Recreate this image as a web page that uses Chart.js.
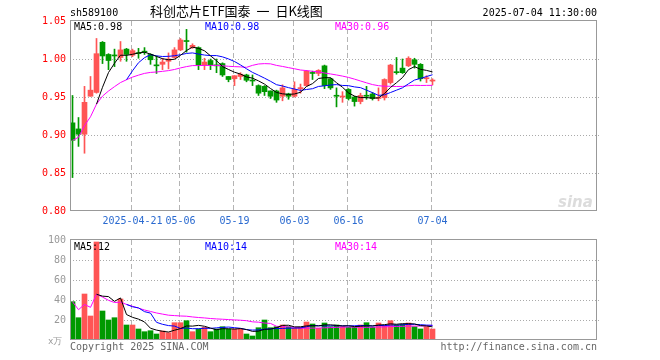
<!DOCTYPE html>
<html>
<head>
<meta charset="utf-8">
<script src="https://cdn.jsdelivr.net/npm/chart.js@4.4.1/dist/chart.umd.min.js"></script>
<style>
  body { margin: 0; background: #fff; }
  #wrap { position: relative; width: 660px; height: 360px; overflow: hidden; }
  canvas { position: absolute; left: 0; }
  .t { position: absolute; font: 10px "DejaVu Sans Mono", monospace; line-height: 10px; white-space: pre; }
</style>
</head>
<body>
<div id="wrap">
  <canvas id="kChart" width="660" height="230" style="top:0"></canvas>
  <canvas id="volChart" width="660" height="130" style="top:230px"></canvas>
  <div class="t" style="left:70px;top:8px">sh589100</div>
  <div class="t" style="left:150px;top:4px;font:13px 'Noto Sans CJK SC';line-height:14px;word-spacing:3px">科创芯片ETF国泰 一 日K线图</div>
  <div class="t" style="right:63px;top:8px">2025-07-04 11:30:00</div>
  <div class="t" id="ma5k" style="left:74px;top:22px;color:#000"></div>
  <div class="t" id="ma10k" style="left:205px;top:22px;color:#0000ff"></div>
  <div class="t" id="ma30k" style="left:335px;top:22px;color:#ff00ff"></div>
  <div class="t" id="ma5v" style="left:74px;top:242px;color:#000"></div>
  <div class="t" id="ma10v" style="left:205px;top:242px;color:#0000ff"></div>
  <div class="t" id="ma30v" style="left:335px;top:242px;color:#ff00ff"></div>
  <div class="t" style="left:48px;top:336px;font-size:9px;color:#999">x万</div>
  <div class="t" style="left:70px;top:342px;color:#666">Copyright 2025 SINA.COM</div>
  <div class="t" style="right:63px;top:342px;color:#666">http://finance.sina.com.cn</div>
  <div class="t" style="left:558px;top:193px;font:italic bold 15px 'DejaVu Sans';color:#dcdcdc">sina</div>
</div>
<script>
// trading days shown
var dates = [
  '04-07','04-08','04-09','04-10','04-11','04-14','04-15','04-16','04-17','04-18',
  '04-21','04-22','04-23','04-24','04-25','04-28','04-29','04-30',
  '05-06','05-07','05-08','05-09','05-12','05-13','05-14','05-15','05-16',
  '05-19','05-20','05-21','05-22','05-23','05-26','05-27','05-28','05-29','05-30',
  '06-03','06-04','06-05','06-06','06-09','06-10','06-11','06-12','06-13',
  '06-16','06-17','06-18','06-19','06-20','06-23','06-24','06-25','06-26','06-27','06-30',
  '07-01','07-02','07-03','07-04'
];
var tickDates = ['04-21', '05-06', '05-19', '06-03', '06-16', '07-04'];
var tickText = ['2025-04-21', '05-06', '05-19', '06-03', '06-16', '07-04'];

var open = [0.916,0.908,0.901,0.951,0.956,1.022,1.006,1.005,1.002,1.013,
  1.005,1.008,1.010,1.006,0.992,0.993,0.997,1.002,1.012,1.024,
  1.015,1.015,0.992,0.998,0.992,0.994,0.977,0.974,0.977,0.979,
  0.972,0.965,0.964,0.958,0.958,0.951,0.954,0.951,0.961,0.965,
  0.982,0.981,0.991,0.974,0.952,0.950,0.960,0.950,0.944,0.952,
  0.954,0.948,0.949,0.969,0.983,0.988,0.991,0.999,0.993,0.974,0.971];
var high = [0.952,0.923,0.964,0.977,1.027,1.023,1.007,1.013,1.023,1.014,
  1.013,1.014,1.015,1.007,1.004,1.001,1.008,1.015,1.027,1.039,
  1.020,1.016,1.001,1.000,1.000,0.995,0.977,0.978,0.982,0.980,
  0.979,0.966,0.965,0.958,0.959,0.966,0.955,0.970,0.967,0.985,
  0.984,0.986,0.992,0.975,0.962,0.957,0.961,0.951,0.955,0.964,
  0.956,0.962,0.974,0.993,1.002,1.000,1.003,1.001,0.994,0.978,0.974];
var low = [0.844,0.885,0.876,0.951,0.955,0.994,0.986,0.990,0.997,0.997,
  1.003,1.001,1.006,0.993,0.981,0.986,0.987,1.001,1.011,1.009,
  1.014,0.986,0.986,0.986,0.982,0.977,0.970,0.965,0.973,0.970,
  0.965,0.952,0.952,0.948,0.943,0.945,0.947,0.950,0.955,0.964,
  0.973,0.978,0.961,0.960,0.937,0.943,0.946,0.938,0.941,0.947,
  0.946,0.945,0.946,0.967,0.980,0.981,0.990,0.988,0.971,0.969,0.966];
var close = [0.893,0.901,0.943,0.959,1.007,1.004,0.998,1.004,1.012,1.006,
  1.011,1.007,1.009,0.999,0.991,0.996,1.000,1.012,1.025,1.023,
  1.018,0.992,0.996,0.992,0.991,0.979,0.973,0.978,0.980,0.972,
  0.971,0.955,0.957,0.951,0.946,0.962,0.951,0.960,0.962,0.984,
  0.981,0.985,0.965,0.962,0.951,0.951,0.948,0.944,0.952,0.951,
  0.948,0.949,0.973,0.992,0.982,0.982,1.001,0.993,0.974,0.975,0.972];
// volume, 万
var volume = [38.3,22.3,46,24,98,29,20,22.3,41,15,
  15,11,8.3,9.3,6,9,7.3,17.3,17.3,19.3,
  8.3,11,12.7,8.3,11,13.3,11,11,11,6,
  4,12.3,20,12.3,13.3,15,13.3,11.7,12.7,18,
  16,11.7,17,13.3,15,13.3,12.7,12.7,15,17.3,
  12.7,17,14.7,19.3,15,15.7,17,13.3,11,13.3,11];
var maText = ['MA5:0.98', 'MA10:0.98', 'MA30:0.96', 'MA5:12', 'MA10:14', 'MA30:14'];

var UP = '#ff5555', DOWN = '#009900';
var FONT = { family: 'DejaVu Sans Mono', size: 10 };
var xMin = -2.5 / 6, xMax = xMin + 527 / 6;
var tickIdx = tickDates.map(function (d) { return dates.indexOf(d); });

['ma5k', 'ma10k', 'ma30k', 'ma5v', 'ma10v', 'ma30v'].forEach(function (id, i) {
  document.getElementById(id).textContent = maText[i];
});

function movingAvg(arr, n, fromStart) {
  return arr.map(function (_, i) {
    if (i < n - 1 && !fromStart) return null;
    var s = arr.slice(Math.max(0, i - n + 1), i + 1);
    return s.reduce(function (a, b) { return a + b; }, 0) / s.length;
  });
}
function xy(arr) { return arr.map(function (v, i) { return { x: i, y: v }; }); }

var colors = close.map(function (c, i) { return c >= open[i] ? UP : DOWN; });

function maLines(src) {
  return [
    { type: 'line', data: xy(movingAvg(src, 5)), borderColor: '#000000' },
    { type: 'line', data: xy(movingAvg(src, 10)), borderColor: '#0000ff' },
    { type: 'line', data: xy(movingAvg(src, 30, true)), borderColor: '#ff00ff' }
  ].map(function (d) {
    d.borderWidth = 1; d.pointRadius = 0; d.tension = 0; d.order = 0; d.spanGaps = false;
    return d;
  });
}

// dotted grid, dashed date lines, frame
var frame = {
  id: 'frame',
  beforeDatasetsDraw: function (chart) {
    var ctx = chart.ctx, a = chart.chartArea, x = chart.scales.x, y = chart.scales.y;
    ctx.save();
    ctx.lineWidth = 1;
    ctx.strokeStyle = '#aaaaaa';
    ctx.setLineDash([1, 2]);
    y.ticks.forEach(function (t) {
      if (Math.abs(t.value - y.min) < 1e-6 || Math.abs(t.value - y.max) < 1e-6) return;
      var py = Math.round(y.getPixelForValue(t.value)) + 0.5;
      ctx.beginPath(); ctx.moveTo(a.left, py); ctx.lineTo(a.right + 3, py); ctx.stroke();
    });
    ctx.strokeStyle = '#b4b4b4';
    ctx.setLineDash([5, 3]);
    tickIdx.forEach(function (i) {
      var px = Math.round(x.getPixelForValue(i)) - 2 + 0.5;
      ctx.beginPath(); ctx.moveTo(px, a.top); ctx.lineTo(px, a.bottom); ctx.stroke();
    });
    ctx.restore();
  },
  afterDraw: function (chart) {
    var ctx = chart.ctx, a = chart.chartArea;
    ctx.save();
    ctx.strokeStyle = '#999999';
    ctx.lineWidth = 1;
    ctx.strokeRect(a.left + 0.5, a.top - 0.5, a.right - a.left - 1, a.bottom - a.top);
    ctx.restore();
  }
};

var xScale = {
  type: 'linear', min: xMin, max: xMax, offset: false,
  grid: { display: false, drawTicks: false, offset: false }, border: { display: false }
};

new Chart(document.getElementById('kChart'), {
  type: 'bar',
  data: {
    datasets: maLines(close).concat([
      {
        data: open.map(function (o, i) { return { x: i, y: [o, close[i]] }; }),
        backgroundColor: colors, barThickness: 5, minBarLength: 1, grouped: false, order: 2
      },
      {
        data: low.map(function (l, i) { return { x: i, y: [l, high[i]] }; }),
        backgroundColor: colors, barThickness: 1, grouped: false, order: 3
      }
    ])
  },
  options: {
    animation: false, responsive: false, events: [],
    layout: { padding: { top: 21, right: 63, left: 0, bottom: 0 } },
    plugins: { legend: { display: false }, tooltip: { enabled: false } },
    scales: {
      x: Object.assign({}, xScale, {
        afterBuildTicks: function (axis) { axis.ticks = tickIdx.map(function (v) { return { value: v }; }); },
        afterFit: function (s) { s.height = 19; },
        ticks: {
          autoSkip: false, maxRotation: 0, padding: 4, color: '#2a6ad0', font: FONT,
          callback: function (v, i) { return tickText[i]; }
        }
      }),
      y: {
        min: 0.8, max: 1.05,
        grid: { display: false, drawTicks: false }, border: { display: false },
        afterFit: function (s) { s.width = 70; },
        ticks: {
          stepSize: 0.05, padding: 4, color: '#ff0000', font: FONT,
          callback: function (v) { return v.toFixed(2); }
        }
      }
    }
  },
  plugins: [frame]
});

new Chart(document.getElementById('volChart'), {
  type: 'bar',
  data: {
    datasets: maLines(volume).concat([
      {
        data: volume.map(function (v, i) { return { x: i, y: v }; }),
        backgroundColor: colors, barThickness: 5, grouped: false, order: 2
      }
    ])
  },
  options: {
    animation: false, responsive: false, events: [],
    layout: { padding: { top: 10, right: 63, left: 0, bottom: 20 } },
    plugins: { legend: { display: false }, tooltip: { enabled: false } },
    scales: {
      x: Object.assign({}, xScale, { display: false }),
      y: {
        min: 0, max: 100,
        grid: { display: false, drawTicks: false }, border: { display: false },
        afterFit: function (s) { s.width = 70; },
        ticks: {
          stepSize: 20, padding: 4, color: '#999999', font: FONT,
          callback: function (v) { return v === 0 ? '' : v; }
        }
      }
    }
  },
  plugins: [frame]
});
</script>
</body>
</html>
